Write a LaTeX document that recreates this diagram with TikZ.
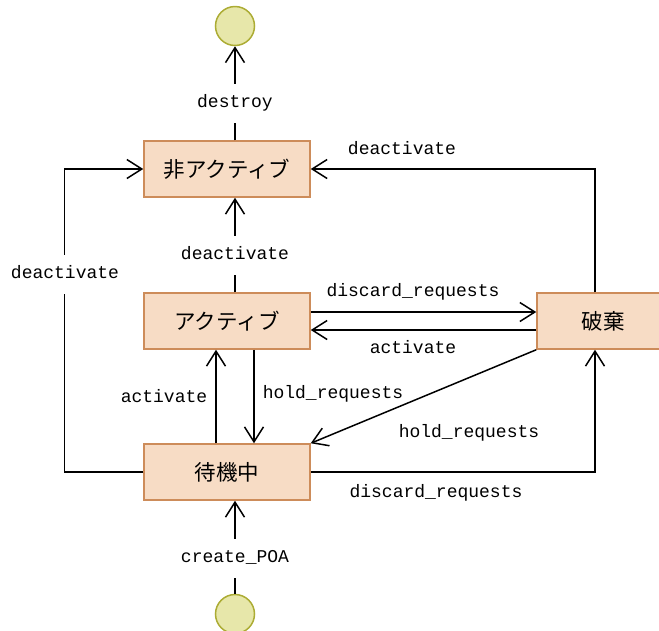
\documentclass[tikz,border=0pt]{standalone}
\usepackage{fontspec}
\setmonofont{Liberation Mono}
\newfontfamily\jpfont{Noto Sans CJK JP}
\usetikzlibrary{arrows.meta,positioning,calc}
\definecolor{stateFill}{RGB}{247,220,197}
\definecolor{stateLine}{RGB}{205,140,90}
\definecolor{termFill}{RGB}{231,231,170}
\definecolor{termLine}{RGB}{172,172,52}

\begin{document}
\begin{tikzpicture}[x=1pt,y=-1pt,
  state/.style={draw=stateLine, fill=stateFill, line width=1.5pt,
    minimum width=166pt, minimum height=56pt, inner sep=0pt,
    font=\jpfont\fontsize{21.5}{21.5}\selectfont},
  term/.style={circle, draw=termLine, fill=termFill, line width=1.5pt,
    minimum size=39pt, inner sep=0pt},
  tr/.style={line width=1.5pt,
    -{Straight Barb[length=15pt,width=19pt,line width=1.5pt]}},
  lbl/.style={font=\ttfamily\fontsize{18}{18}\selectfont, inner sep=1pt,
    text height=13pt, text depth=4pt},
  cut/.style={lbl, fill=white, inner xsep=2pt, inner ysep=11pt}]
\clip (0,0) rectangle (659,630);

% states
\node[term] (top) at (235,26) {};
\node[state] (inact) at (227,169) {非アクティブ};
\node[state] (act) at (227,321) {アクティブ};
\node[state] (wait) at (227,472) {待機中};
\node[state, minimum width=132pt] (disc) at (603,321) {破棄};
\node[term] (bot) at (235,614) {};
\coordinate (dx) at (595,0);
\coordinate (upx) at (216,0);
\coordinate (downx) at (254,0);

% transitions
\draw[tr] (inact.north -| top) -- (top);
\draw[tr] (act.north -| top) -- (inact.south -| top);
\draw[tr] (wait.west) -- ++(-79,0) |- (inact.west);
\draw[tr] (disc.north -| dx) |- (inact.east);
\draw[tr] ($(act.east)+(0,-9)$) -- ($(disc.west)+(0,-9)$);
\draw[tr] ($(disc.west)+(0,9)$) -- ($(act.east)+(0,9)$);
\draw[tr] (wait.north -| upx) -- (act.south -| upx);
\draw[tr] (act.south -| downx) -- (wait.north -| downx);
\draw[tr] (disc.south west) -- (wait.north east);
\draw[tr] (wait.east) -| (disc.south -| dx);
\draw[tr] (bot) -- (wait.south -| bot);

% labels
\node[cut] (lDestroy) at (235,103) {destroy};
\node[cut] (lDeact) at (235,255) {deactivate};
\node[cut] (lDeactL) at (65,274) {deactivate};
\node[lbl] (lDeactR) at (402,150) {deactivate};
\node[lbl] (lDiscT) at (413,292) {discard\_requests};
\node[lbl] (lActM) at (413,349) {activate};
\node[lbl] (lActL) at (164,398) {activate};
\node[lbl] (lHoldV) at (333,394) {hold\_requests};
\node[lbl] (lHoldD) at (469,433) {hold\_requests};
\node[lbl] (lDiscB) at (436,493) {discard\_requests};
\node[cut] (lCreate) at (235,558) {create\_POA};
\end{tikzpicture}
\end{document}
